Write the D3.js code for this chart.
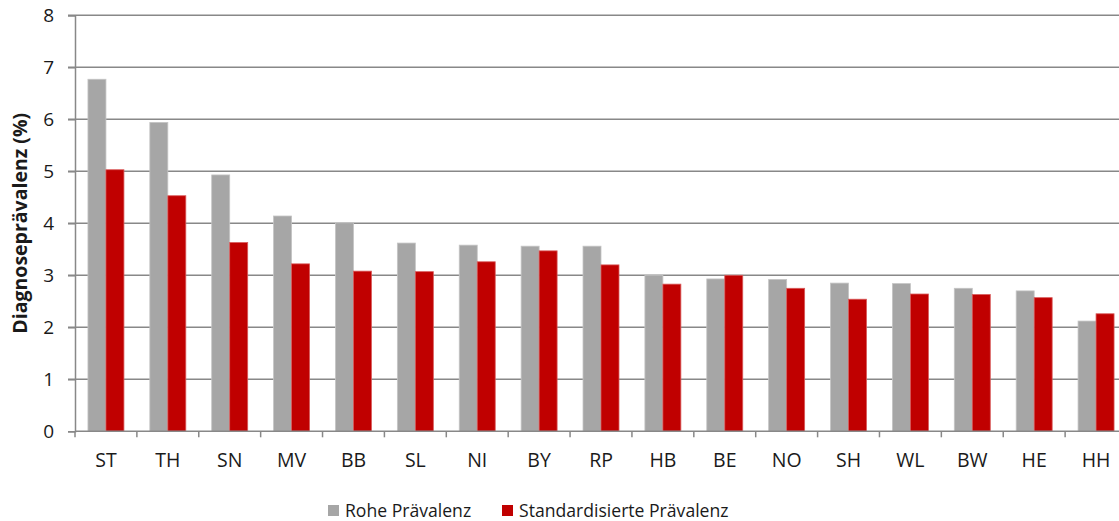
<!DOCTYPE html>
<html><head><meta charset="utf-8">
<script src="https://cdn.jsdelivr.net/npm/d3@7/dist/d3.min.js"></script>
<style>
body{margin:0;background:#fff;}
text{font-family:"Open Sans","Noto Sans",sans-serif;fill:#1a1a1a;}
</style></head>
<body><svg id="c" width="1119" height="521"></svg>
<script>
const categories = ["ST","TH","SN","MV","BB","SL","NI","BY","RP","HB","BE","NO","SH","WL","BW","HE","HH"];
const rohe = [6.77,5.94,4.93,4.14,4.01,3.62,3.58,3.56,3.56,3.00,2.93,2.92,2.85,2.84,2.75,2.70,2.12];
const standardisiert = [5.03,4.53,3.63,3.22,3.08,3.07,3.26,3.47,3.20,2.83,3.00,2.75,2.54,2.64,2.63,2.57,2.26];
const seriesNames = ["Rohe Prävalenz","Standardisierte Prävalenz"];
const seriesColors = ["#a6a6a6","#c00000"];
const seriesStroke = ["#c4c4c4","#d85a5a"];
const yTicks = [0,1,2,3,4,5,6,7,8];

(function(){
const svg = d3.select("#c");
const pLeft = 75, pRight = 1127, pTop = 15.3, pBottom = 431.3;
const x = d3.scaleBand().domain(categories).range([pLeft, pRight]).padding(0);
const x1 = d3.scaleBand().domain(seriesNames).range([0, x.bandwidth()]).paddingInner(0).paddingOuter(0.72);
const y = d3.scaleLinear().domain([0,8]).range([pBottom, pTop]);

// gridlines
svg.append("g").selectAll("line").data(yTicks.filter(d=>d>0)).join("line")
  .attr("x1", pLeft-7).attr("x2", 1119)
  .attr("y1", d=>y(d)).attr("y2", d=>y(d))
  .attr("stroke", "#888888").attr("stroke-width", 1.5);

// y axis
const yAxis = d3.axisLeft(y).tickValues(yTicks).tickSize(7).tickPadding(14).tickFormat(d3.format("d"));
const gy = svg.append("g").attr("transform", `translate(${pLeft},0)`).call(yAxis);
gy.attr("font-size", 19);
gy.select(".domain").attr("stroke","#888888").attr("stroke-width",1.5);
gy.selectAll(".tick line").attr("stroke","#888888").attr("stroke-width",1.5);
gy.selectAll(".tick text").attr("fill","#1a1a1a").style("font-family",'"Open Sans",sans-serif').style("font-size","19px");

// bars
const data = [rohe, standardisiert];
seriesNames.forEach((s, si) => {
  svg.append("g").selectAll("rect").data(categories).join("rect")
    .attr("x", (c)=> x(c) + x1(s))
    .attr("y", (c,i)=> y(data[si][i]))
    .attr("width", x1.bandwidth())
    .attr("height", (c,i)=> y(0) - y(data[si][i]))
    .attr("fill", seriesColors[si])
    .attr("stroke", seriesStroke[si]).attr("stroke-width", 0.8);
});

// x axis
const xAxis = d3.axisBottom(x).tickSize(0).tickPadding(22);
const gx = svg.append("g").attr("transform", `translate(0,${pBottom})`).call(xAxis);
gx.attr("font-size", 19.5);
gx.select(".domain").remove();
gx.append("line").attr("x1", pLeft).attr("x2", 1119).attr("y1",0).attr("y2",0).attr("stroke","#888888").attr("stroke-width",1.5);
gx.selectAll(".tick text").attr("fill","#1a1a1a").style("font-family",'"Open Sans",sans-serif').style("font-size","19.5px");
const bounds = categories.map(c => x(c)).concat([x(categories[categories.length-1]) + x.bandwidth()]);
gx.append("g").selectAll("line").data(bounds).join("line")
  .attr("x1", d=>d).attr("x2", d=>d).attr("y1",0).attr("y2",6)
  .attr("stroke","#888888").attr("stroke-width",1.5);

// y title
svg.append("text")
  .attr("transform", `translate(27,${(pTop+pBottom)/2}) rotate(-90)`)
  .attr("text-anchor","middle")
  .style("font-size","19.5px").attr("font-weight","bold")
  .text("Diagnoseprävalenz (%)");

// legend
const legendX = [328, 502];
const lg = svg.append("g");
seriesNames.forEach((s, i) => {
  lg.append("rect").attr("x", legendX[i]).attr("y", 505).attr("width", 11).attr("height", 11).attr("fill", seriesColors[i]);
  lg.append("text").attr("x", legendX[i] + 17).attr("y", 517).style("font-size", "17.6px").text(s);
});
})();
</script></body></html>
